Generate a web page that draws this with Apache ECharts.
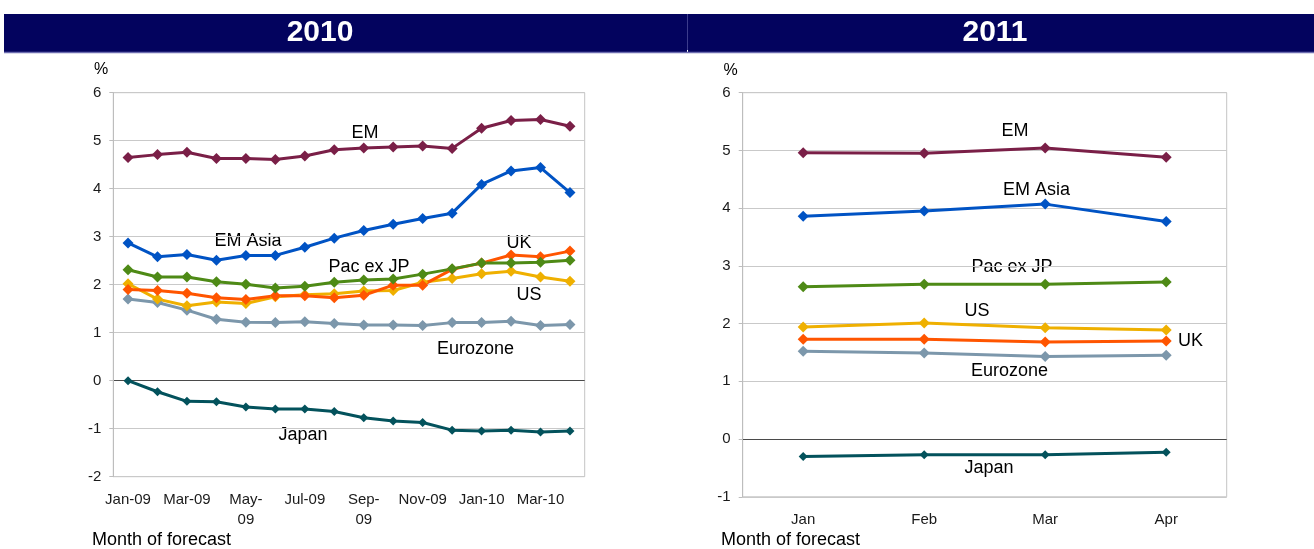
<!DOCTYPE html>
<html>
<head>
<meta charset="utf-8">
<title>Inflation consensus forecasts</title>
<script src="https://cdn.jsdelivr.net/npm/echarts@6/dist/echarts.min.js"></script>
<style>
  html, body { margin: 0; padding: 0; background: #fff; }
  #chart { width: 1314px; height: 549px; }
</style>
</head>
<body>
<div id="chart"></div>
<script>
// Consensus CPI forecasts for 2010, by month the forecast was made (%)
const months2010 = ['Jan-09', 'Feb-09', 'Mar-09', 'Apr-09', 'May-09', 'Jun-09', 'Jul-09', 'Aug-09',
                    'Sep-09', 'Oct-09', 'Nov-09', 'Dec-09', 'Jan-10', 'Feb-10', 'Mar-10', 'Apr-10'];
const em2010       = [4.65, 4.71, 4.76, 4.63, 4.63, 4.61, 4.68, 4.81, 4.85, 4.87, 4.89, 4.84, 5.26, 5.42, 5.44, 5.30];
const emAsia2010   = [2.87, 2.58, 2.63, 2.51, 2.61, 2.61, 2.78, 2.97, 3.13, 3.26, 3.38, 3.49, 4.09, 4.37, 4.44, 3.92];
const pacExJp2010  = [2.31, 2.16, 2.16, 2.06, 2.01, 1.93, 1.97, 2.05, 2.10, 2.12, 2.22, 2.33, 2.45, 2.45, 2.47, 2.51];
const uk2010       = [1.90, 1.88, 1.82, 1.73, 1.69, 1.77, 1.77, 1.73, 1.78, 1.99, 1.99, 2.32, 2.45, 2.62, 2.58, 2.70];
const us2010       = [2.02, 1.70, 1.56, 1.64, 1.61, 1.75, 1.79, 1.81, 1.87, 1.88, 2.05, 2.13, 2.23, 2.28, 2.16, 2.07];
const eurozone2010 = [1.70, 1.63, 1.47, 1.28, 1.22, 1.21, 1.23, 1.19, 1.16, 1.16, 1.15, 1.21, 1.21, 1.24, 1.15, 1.17];
const japan2010    = [0.00, -0.23, -0.43, -0.44, -0.55, -0.59, -0.59, -0.64, -0.77, -0.84, -0.87, -1.03, -1.05, -1.03, -1.07, -1.05];

// Consensus CPI forecasts for 2011 (%)
const months2011   = ['Jan', 'Feb', 'Mar', 'Apr'];
const em2011       = [4.96, 4.95, 5.04, 4.88];
const emAsia2011   = [3.86, 3.95, 4.07, 3.77];
const pacExJp2011  = [2.64, 2.68, 2.68, 2.72];
const us2011       = [1.94, 2.01, 1.93, 1.89];
const uk2011       = [1.73, 1.73, 1.68, 1.70];
const eurozone2011 = [1.52, 1.49, 1.43, 1.45];
const japan2011    = [-0.30, -0.27, -0.27, -0.23];

const ticks2010 = [-2, -1, 0, 1, 2, 3, 4, 5, 6];
const ticks2011 = [-1, 0, 1, 2, 3, 4, 5, 6];

const FONT = 'Liberation Sans, Arial, sans-serif';
const COLORS = {
  em: '#7a1f47', emAsia: '#0053c4', pac: '#4e8a16', uk: '#ff5500',
  us: '#efb000', euro: '#7c97ab', japan: '#03525c'
};
const GRID_GREY = '#c9c9c9';
const ZERO_LINE = '#4a4a4a';

function lineSeries(name, data, color, idx, size) {
  return {
    name, type: 'line', data,
    xAxisIndex: idx, yAxisIndex: idx,
    symbol: 'diamond', symbolSize: size || 11,
    lineStyle: { color, width: 3 },
    itemStyle: { color },
    emphasis: { disabled: true },
    animation: false
  };
}

function yAxisFor(idx, min, ticks) {
  // the zero line is drawn darker than the other gridlines
  const colors = ticks.map(t => (t === 0 ? ZERO_LINE : GRID_GREY));
  return {
    type: 'value', gridIndex: idx, min, max: 6, interval: 1,
    axisLine: { show: true, lineStyle: { color: '#bdbdbd', width: 1 } },
    axisTick: { show: true, length: 4, lineStyle: { color: '#bdbdbd' } },
    axisLabel: { color: '#1a1a1a', fontSize: 15, fontFamily: FONT, margin: 12 },
    splitLine: { show: true, lineStyle: { color: colors, width: 1 } }
  };
}

const wrappedLabels = ['May-09', 'Sep-09'];

const chart = echarts.init(document.getElementById('chart'), null, { renderer: 'canvas' });

const notes2010 = [
  ['EM', 365, 133], ['EM Asia', 248, 241.5], ['Pac ex JP', 369, 267], ['UK', 519, 243],
  ['US', 529, 295], ['Eurozone', 475.5, 349], ['Japan', 303, 435.5]
];
const notes2011 = [
  ['EM', 1015, 131.5], ['EM Asia', 1036.5, 190], ['Pac ex JP', 1012, 267.5], ['US', 977, 311.5],
  ['UK', 1190.5, 341.5], ['Eurozone', 1009.5, 371], ['Japan', 989, 468.5]
];

function textEl(text, x, y, opts) {
  return {
    type: 'text', x, y, silent: true,
    style: Object.assign({
      text, font: '18px ' + FONT, fill: '#000',
      align: 'center', verticalAlign: 'middle'
    }, opts || {})
  };
}

const graphics = [
  // header bars
  { type: 'rect', shape: { x: 4, y: 14, width: 683, height: 38 }, style: { fill: '#03035e' }, silent: true },
  { type: 'rect', shape: { x: 688, y: 14, width: 626, height: 38 }, style: { fill: '#03035e' }, silent: true },
  { type: 'line', shape: { x1: 687.5, y1: 14, x2: 687.5, y2: 50 }, style: { stroke: '#3c3c8c', lineWidth: 1 }, silent: true },
  { type: 'line', shape: { x1: 4, y1: 52.5, x2: 1314, y2: 52.5 }, style: { stroke: '#6d6db0', lineWidth: 1.5 }, silent: true },
  textEl('2010', 320, 33, { font: 'bold 30px ' + FONT, fill: '#fff' }),
  textEl('2011', 995, 33, { font: 'bold 30px ' + FONT, fill: '#fff' }),
  // unit markers and axis titles
  textEl('%', 101, 70, { font: '16px ' + FONT }),
  textEl('%', 730.5, 71, { font: '16px ' + FONT }),
  textEl('Month of forecast', 92, 540, { align: 'left', font: '18px ' + FONT }),
  textEl('Month of forecast', 721, 540, { align: 'left', font: '18px ' + FONT })
];
notes2010.concat(notes2011).forEach(n => graphics.push(textEl(n[0], n[1], n[2])));

chart.setOption({
  animation: false,
  backgroundColor: '#fff',
  grid: [
    { left: 113.3, top: 92.7, width: 471.4, height: 384, show: true, borderColor: '#c4c4c4', borderWidth: 1, backgroundColor: 'transparent' },
    { left: 742.7, top: 92.7, width: 484, height: 404.1, show: true, borderColor: '#c4c4c4', borderWidth: 1, backgroundColor: 'transparent' }
  ],
  xAxis: [
    {
      type: 'category', gridIndex: 0, data: months2010, boundaryGap: true,
      axisLine: { show: false }, axisTick: { show: false },
      axisLabel: {
        interval: 1, color: '#1a1a1a', fontSize: 15, fontFamily: FONT, margin: 13, lineHeight: 20,
        formatter: v => (wrappedLabels.includes(v) ? v.replace('-', '-\n') : v)
      },
      splitLine: { show: false }
    },
    {
      type: 'category', gridIndex: 1, data: months2011, boundaryGap: true,
      axisLine: { show: false }, axisTick: { show: false },
      axisLabel: { interval: 0, color: '#1a1a1a', fontSize: 15, fontFamily: FONT, margin: 13, lineHeight: 20 },
      splitLine: { show: false }
    }
  ],
  yAxis: [
    yAxisFor(0, ticks2010[0], ticks2010),
    yAxisFor(1, ticks2011[0], ticks2011)
  ],
  series: [
    lineSeries('Eurozone', eurozone2010, COLORS.euro, 0),
    lineSeries('US', us2010, COLORS.us, 0),
    lineSeries('UK', uk2010, COLORS.uk, 0),
    lineSeries('Pac ex JP', pacExJp2010, COLORS.pac, 0),
    lineSeries('EM Asia', emAsia2010, COLORS.emAsia, 0),
    lineSeries('EM', em2010, COLORS.em, 0),
    lineSeries('Japan', japan2010, COLORS.japan, 0, 9),

    lineSeries('Eurozone', eurozone2011, COLORS.euro, 1),
    lineSeries('UK', uk2011, COLORS.uk, 1),
    lineSeries('US', us2011, COLORS.us, 1),
    lineSeries('Pac ex JP', pacExJp2011, COLORS.pac, 1),
    lineSeries('EM Asia', emAsia2011, COLORS.emAsia, 1),
    lineSeries('EM', em2011, COLORS.em, 1),
    lineSeries('Japan', japan2011, COLORS.japan, 1, 9)
  ],
  graphic: graphics
});
</script>
</body>
</html>
